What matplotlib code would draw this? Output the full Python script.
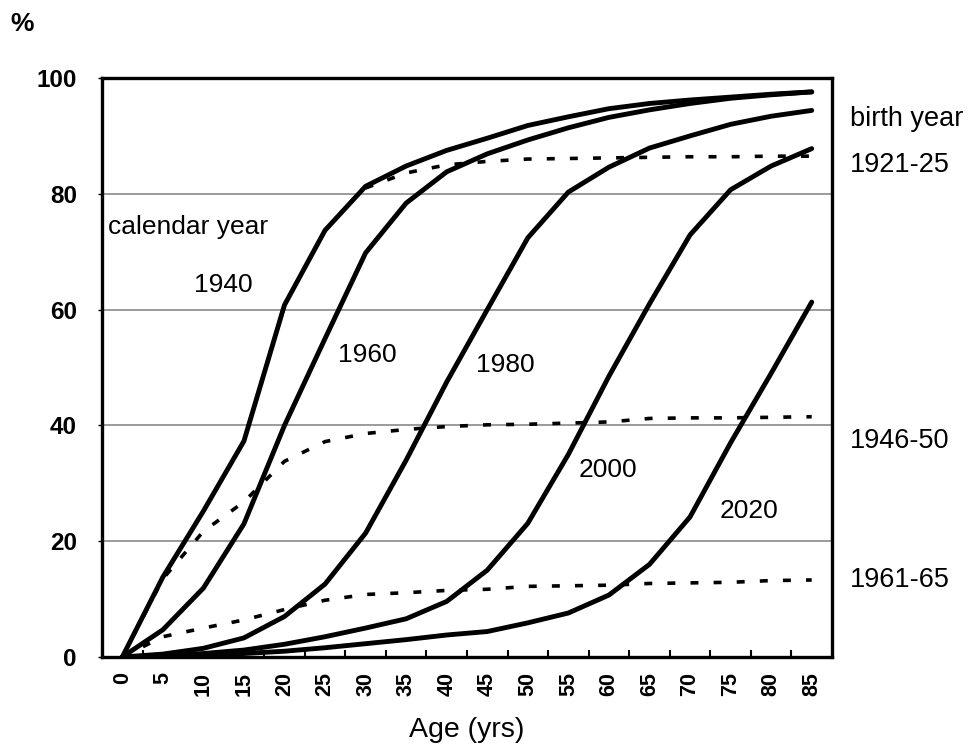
import matplotlib
matplotlib.use("Agg")
import matplotlib.pyplot as plt
from matplotlib.ticker import FixedLocator, MultipleLocator

plt.rcParams['font.family'] = ['Liberation Sans', 'DejaVu Sans']

ages = [0, 5, 10, 15, 20, 25, 30, 35, 40, 45, 50, 55, 60, 65, 70, 75, 80, 85]

# Calendar-year curves (solid)
cal_1940 = [0, 13.8, 25.2, 37.3, 60.8, 73.7, 81.3, 84.8, 87.5, 89.6, 91.8, 93.3, 94.7, 95.6, 96.2, 96.7, 97.2, 97.6]
cal_1960 = [0, 4.7, 11.9, 23.0, 40.0, 55.0, 69.8, 78.4, 83.8, 86.9, 89.3, 91.4, 93.2, 94.5, 95.6, 96.5, 97.1, 97.6]
cal_1980 = [0, 0.5, 1.5, 3.3, 7.0, 12.6, 21.4, 34.0, 47.5, 60.0, 72.4, 80.3, 84.6, 87.9, 90.0, 92.0, 93.4, 94.4]
cal_2000 = [0, 0.2, 0.6, 1.2, 2.2, 3.5, 5.0, 6.6, 9.6, 15.0, 23.1, 35.0, 48.5, 61.0, 72.9, 80.7, 84.8, 87.8]
cal_2020 = [0, 0.1, 0.3, 0.6, 1.0, 1.6, 2.3, 3.0, 3.8, 4.4, 5.9, 7.6, 10.7, 16.0, 24.2, 37.0, 49.0, 61.3]

# Birth-cohort curves (dashed)
coh_1921_ages = [30, 35, 40, 45, 50, 55, 60, 65, 70, 75, 80, 85]
coh_1921 = [81.0, 83.6, 85.0, 85.6, 86.0, 86.1, 86.2, 86.3, 86.4, 86.4, 86.5, 86.5]
coh_1946 = [0, 13.5, 21.7, 26.8, 33.8, 37.2, 38.6, 39.3, 39.8, 40.1, 40.2, 40.4, 40.6, 41.2, 41.3, 41.3, 41.4, 41.5]
coh_1961 = [0, 3.5, 5.0, 6.4, 8.2, 9.8, 10.8, 11.1, 11.5, 11.7, 12.2, 12.3, 12.4, 12.7, 12.8, 12.9, 13.2, 13.3]

solid_series = [cal_1940, cal_1960, cal_1980, cal_2000, cal_2020]
solid_labels = ["1940", "1960", "1980", "2000", "2020"]
solid_label_pos = [(12.5, 64.3), (30.2, 52.2), (47.2, 50.5), (59.9, 32.3), (77.3, 25.3)]

fig = plt.figure(figsize=(9.78, 7.49), dpi=100)
ax = fig.add_axes([102/978, 1-657/749, 730/978, 579/749])

ax.set_xlim(-2.5, 87.5)
ax.set_ylim(0, 100)

for yv in [20, 40, 60, 80]:
    ax.axhline(yv, color='#808080', lw=1.1, zorder=1)

for s in solid_series:
    ax.plot(ages, s, color='black', lw=3.5, solid_capstyle='round', solid_joinstyle='round', zorder=3)

dash_kw = dict(color='black', lw=2.6, dashes=(2.2, 4.2), dash_capstyle='butt', zorder=2)
ax.plot(coh_1921_ages, coh_1921, **dash_kw)
ax.plot(ages, coh_1946, **dash_kw)
ax.plot(ages, coh_1961, **dash_kw)

for lab, (x, y) in zip(solid_labels, solid_label_pos):
    ax.text(x, y, lab, fontsize=19, ha='center', va='center', zorder=4)
ax.text(-1.8, 74.3, "calendar year", fontsize=19, ha='left', va='center', zorder=4)

# right-side cohort labels
right_labels = [("birth year", 92.9), ("1921-25", 85.0), ("1946-50", 37.3), ("1961-65", 13.3)]
for lab, y in right_labels:
    ax.text(89.7, y, lab, fontsize=19.5, ha='left', va='center', clip_on=False)

# axes styling
for sp in ax.spines.values():
    sp.set_linewidth(2.4)
    sp.set_color('black')

ax.xaxis.set_major_locator(FixedLocator(ages))
ax.set_xticklabels([str(a) for a in ages], rotation=90, fontsize=15.5, fontweight='bold')
ax.xaxis.set_minor_locator(FixedLocator([a + 2.5 for a in ages[:-1]]))
ax.tick_params(axis='x', which='major', length=0, pad=11)
ax.tick_params(axis='x', which='minor', direction='in', length=5, width=1.5)

ax.yaxis.set_major_locator(MultipleLocator(20))
ax.tick_params(axis='y', which='major', direction='out', length=3, width=1, labelsize=17.5, pad=15)
for t in ax.get_yticklabels():
    t.set_fontweight('bold')

ax.set_xlabel("Age (yrs)", fontsize=20.5, va='top')
ax.xaxis.set_label_coords(0.5, -(717 - 657) / 579)
fig.text(22/978, 1-24/749, "%", fontsize=19, fontweight='bold', ha='center', va='center')

fig.savefig("out.png", dpi=100)
